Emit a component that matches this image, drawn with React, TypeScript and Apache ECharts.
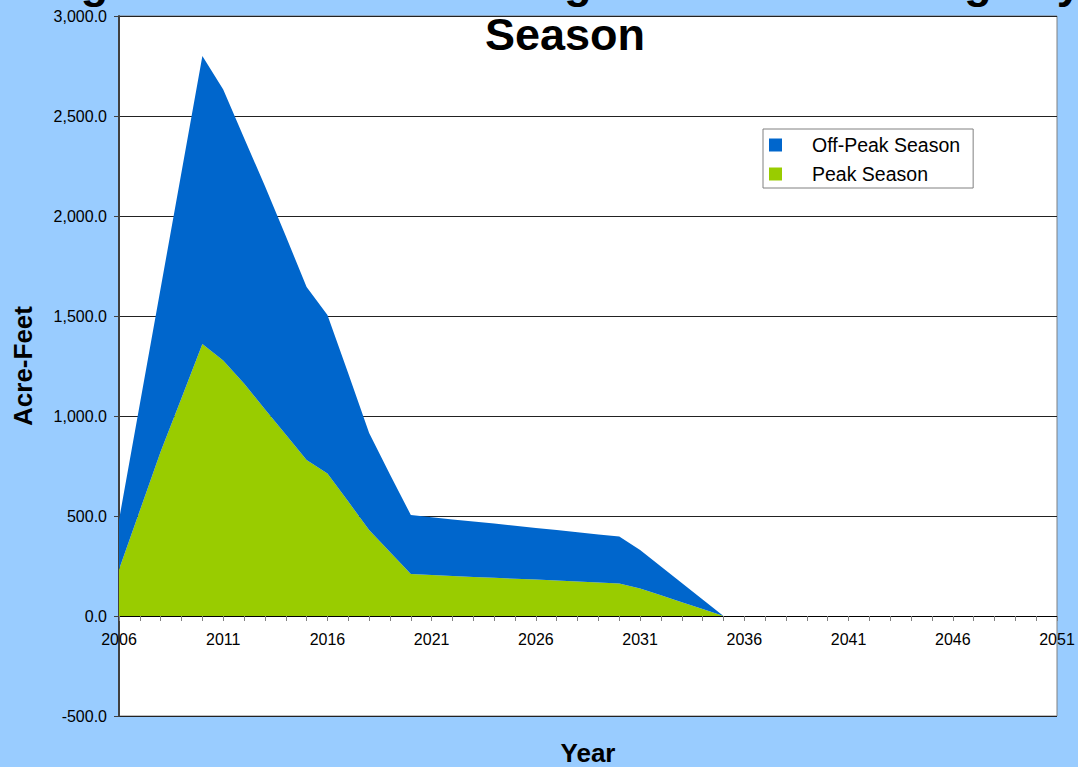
import React, { useEffect, useRef } from "react";
import * as echarts from "echarts";

// Year categories along the horizontal axis (one per tick)
const axisYears: string[] = [
  "2006", "2007", "2008", "2009", "2010", "2011", "2012", "2013", "2014", "2015",
  "2016", "2017", "2018", "2019", "2020", "2021", "2022", "2023", "2024", "2025",
  "2026", "2027", "2028", "2029", "2030", "2031", "2032", "2033", "2034", "2035",
  "2036", "2037", "2038", "2039", "2040", "2041", "2042", "2043", "2044", "2045",
  "2046", "2047", "2048", "2049", "2050", "2051",
];

// Peak-season savings (acre-feet), 2006–2035
const peakSeason: number[] = [
  233, 527, 822, 1090, 1360, 1277, 1163, 1034, 907, 780,
  713, 572, 430, 320, 210, 205, 200, 195, 191, 186,
  182, 177, 172, 168, 163, 138, 104, 69, 35, 0,
];

// Off-peak-season savings (acre-feet), 2006–2035, stacked on top of peak season
const offPeakSeason: number[] = [
  247, 533, 818, 1130, 1440, 1356, 1227, 1116, 993, 865,
  792, 641, 485, 388, 295, 289, 283, 278, 271, 265,
  258, 253, 247, 240, 234, 192, 143, 96, 47, 0,
];

const titleLines: string[] = ["Agricultural Water Management Plan Savings by", "Season"];
const seriesNames: string[] = ["Off-Peak Season", "Peak Season"];
const yAxisTitle = "Acre-Feet";
const xAxisTitle = "Year";

const FONT = '"Liberation Sans", Arial, Helvetica, sans-serif';

const fmtY = (v: number) =>
  v.toLocaleString("en-US", { minimumFractionDigits: 1, maximumFractionDigits: 1 });

export default function App() {
  const ref = useRef<HTMLDivElement>(null);

  useEffect(() => {
    document.body.style.margin = "0";
    document.body.style.background = "#99CCFF";
    if (!ref.current) return;
    const chart = echarts.init(ref.current, undefined, { renderer: "svg" });

    const centredText = (text: string, font: string) =>
      ({
        text,
        font,
        fill: "#000",
        textAlign: "center",
        textVerticalAlign: "middle",
        align: "center",
        verticalAlign: "middle",
      }) as any;

    const option: any = {
      animation: false,
      backgroundColor: "#99CCFF",
      textStyle: { fontFamily: FONT },
      graphic: [
        { type: "text", x: 565, y: -18, style: centredText(titleLines[0], `bold 45px ${FONT}`) },
        { type: "text", x: 565, y: 34, style: centredText(titleLines[1], `bold 45px ${FONT}`) },
        { type: "text", x: 588, y: 753, style: centredText(xAxisTitle, `bold 26px ${FONT}`) },
      ],
      legend: {
        orient: "vertical",
        left: 763,
        top: 129,
        padding: [6, 13, 4, 6],
        itemWidth: 13,
        itemHeight: 13,
        itemGap: 9,
        icon: "rect",
        backgroundColor: "#fff",
        borderColor: "#808080",
        borderWidth: 1,
        borderRadius: 0,
        data: seriesNames,
        textStyle: {
          fontSize: 19.5,
          color: "#000",
          fontFamily: FONT,
          padding: [0, 0, 0, 25],
        },
      },
      grid: {
        left: 119,
        right: 21,
        top: 16,
        bottom: 51,
        outerBoundsMode: "none",
        containLabel: false,
        show: true,
        backgroundColor: "#fff",
        borderColor: "#808080",
        borderWidth: 1,
      },
      xAxis: {
        type: "category",
        data: axisYears,
        boundaryGap: false,
        // the zero line sits 100px above the bottom of the plot (-500 … 0)
        offset: -100,
        axisLine: { show: true, onZero: false, lineStyle: { color: "#000", width: 1 } },
        axisTick: { show: true, interval: 0, length: 5, lineStyle: { color: "#808080" } },
        axisLabel: {
          interval: 4,
          fontSize: 16,
          color: "#000",
          margin: 15,
        },
        splitLine: { show: false },
      },
      yAxis: {
        type: "value",
        min: -500,
        max: 3000,
        interval: 500,
        name: yAxisTitle,
        nameLocation: "middle",
        nameGap: 83,
        nameTextStyle: { fontSize: 26, fontWeight: "bold", color: "#000" },
        axisLine: { show: true, onZero: false, lineStyle: { color: "#404040", width: 2 } },
        axisTick: { show: true, length: 5, lineStyle: { color: "#404040" } },
        axisLabel: {
          fontSize: 16,
          color: "#000",
          margin: 12,
          formatter: (v: number) => fmtY(v),
        },
        splitLine: { show: true, lineStyle: { color: "#222", width: 1 } },
      },
      series: [
        {
          name: seriesNames[1],
          type: "line",
          stack: "total",
          symbol: "none",
          lineStyle: { width: 0 },
          itemStyle: { color: "#99CC00" },
          areaStyle: { color: "#99CC00", opacity: 1 },
          data: peakSeason,
        },
        {
          name: seriesNames[0],
          type: "line",
          stack: "total",
          symbol: "none",
          lineStyle: { width: 0 },
          itemStyle: { color: "#0066CC" },
          areaStyle: { color: "#0066CC", opacity: 1 },
          data: offPeakSeason,
        },
      ],
    };

    chart.setOption(option);
    return () => chart.dispose();
  }, []);

  return <div ref={ref} style={{ width: 1078, height: 767 }} />;
}
